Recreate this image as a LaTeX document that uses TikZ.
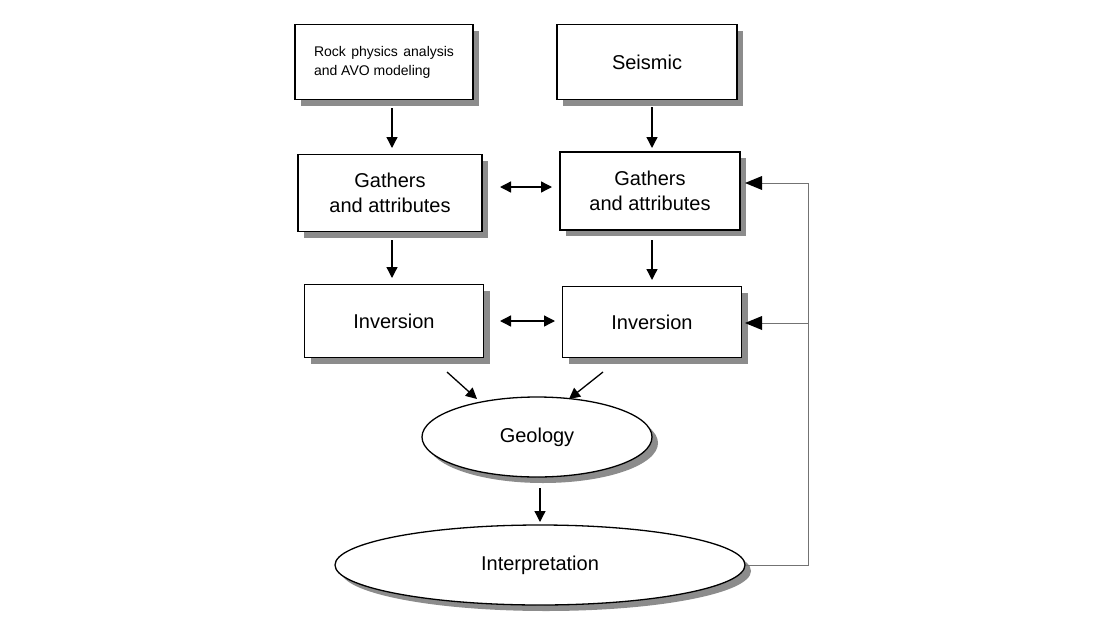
\documentclass[tikz,border=0pt]{standalone}
\usepackage{fontspec}
\setmainfont{Liberation Sans}
\usetikzlibrary{shadows,arrows.meta,shapes.geometric}
\begin{document}
\begin{tikzpicture}[x=1pt,y=-1pt,
  shad/.style={drop shadow={shadow xshift=6pt,shadow yshift=-6pt,fill=black!45,opacity=1}},
  bx/.style={draw,line width=1.3pt,fill=white,shad,align=center,inner sep=0pt,font=\fontsize{20}{25}\selectfont},
  el/.style={draw,ellipse,line width=1.3pt,fill=white,shad,inner sep=0pt,font=\fontsize{20}{25}\selectfont},
  ar/.style={-{Triangle[length=11pt,width=11pt]},line width=1.3pt},
  dar/.style={{Triangle[length=11pt,width=11pt]}-{Triangle[length=11pt,width=11pt]},line width=1.3pt},
  fb/.style={draw=black!55,line width=1pt}]
\useasboundingbox (0,0) rectangle (1100,640);
\node[bx,minimum width=178pt,minimum height=75pt] (rock) at (384,62)
  {\parbox{140pt}{\fontsize{14}{19}\selectfont Rock physics analysis and AVO modeling}};
\node[bx,minimum width=180pt,minimum height=75pt] (seis) at (647,62) {Seismic};
\node[bx,minimum width=184pt,minimum height=77pt] (gl) at (390,193) {Gathers\\and attributes};
\node[bx,minimum width=180pt,minimum height=78pt] (gr) at (650,191) {Gathers\\and attributes};
\node[bx,minimum width=179pt,minimum height=73pt] (il) at (394,321) {Inversion};
\node[bx,minimum width=179pt,minimum height=71pt] (ir) at (652,322) {Inversion};
\node[el,minimum width=230pt,minimum height=80pt] (geo) at (537,437) {Geology};
\node[el,minimum width=410pt,minimum height=80pt] (int) at (540,565) {Interpretation};
\draw[ar] (392,108) -- (392,148);
\draw[ar] (652,107) -- (652,148);
\draw[ar] (392,240) -- (392,278);
\draw[ar] (652,240) -- (652,280);
\draw[dar] (500,187) -- (552,187);
\draw[dar] (500,321) -- (555,321);
\draw[ar] (447,372) -- (477,399);
\draw[ar] (603,372) -- (569,399);
\draw[ar] (540,488) -- (540,522);
\coordinate (c1) at (808,565);
\coordinate (c2) at (808,183);
\coordinate (c3) at (808,323);
\draw[fb] (int.east) -- (c1) -- (c2) -- (760,183);
\draw[fb] (c3) -- (760,323);
\fill (745,183) -- (762,176) -- (762,190) -- cycle;
\fill (745,323) -- (762,316) -- (762,330) -- cycle;
\end{tikzpicture}
\end{document}
